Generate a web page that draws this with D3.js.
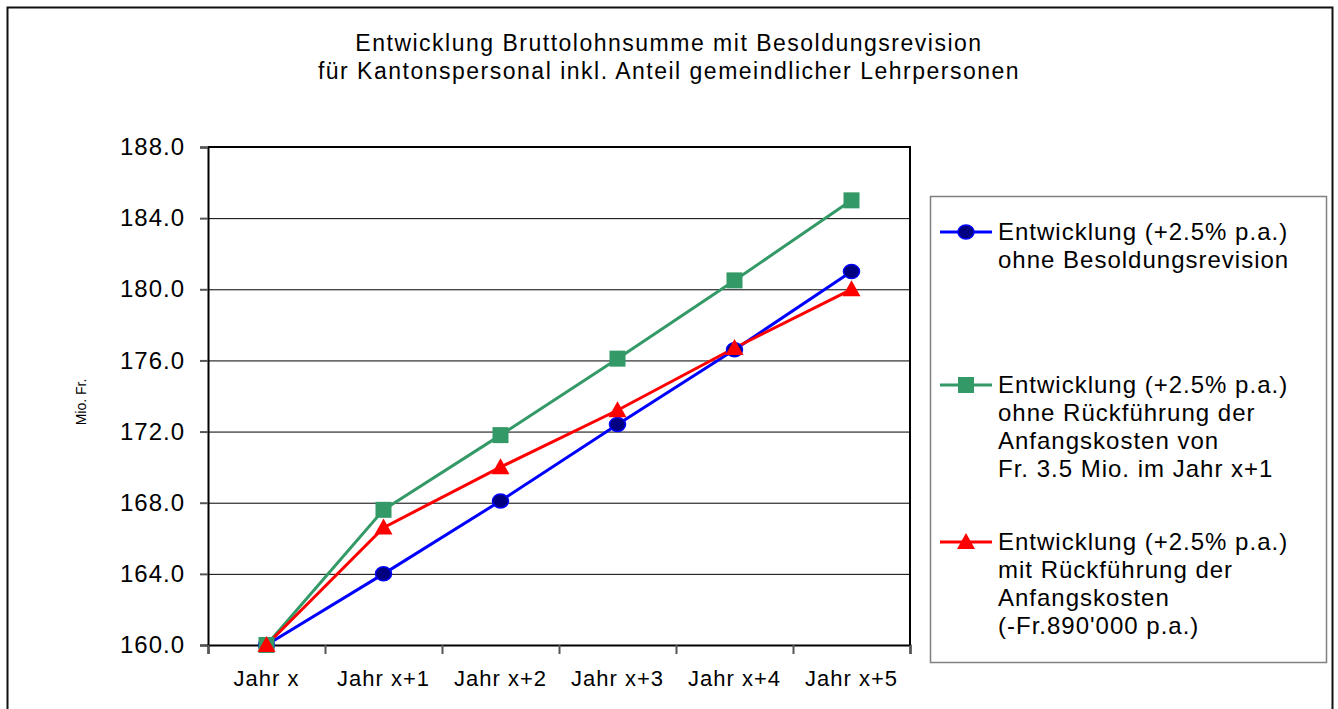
<!DOCTYPE html>
<html>
<head>
<meta charset="utf-8">
<script src="https://cdn.jsdelivr.net/npm/d3@7"></script>
<style>
  body { margin: 0; background: #fff; }
  text { font-family: "Liberation Sans", Arial, sans-serif; fill: #000; }
</style>
</head>
<body>
<svg id="chart" width="1338" height="709"></svg>
<script>
/* chart data */
const categories = ['Jahr x', 'Jahr x+1', 'Jahr x+2', 'Jahr x+3', 'Jahr x+4', 'Jahr x+5'];
const blueValues = [160.0, 164.0, 168.1, 172.4, 176.6, 181.0];
const greenValues = [160.0, 167.6, 171.8, 176.1, 180.5, 185.0];
const redValues = [160.0, 166.6, 170.0, 173.2, 176.7, 180.0];
const yTicks = [160, 164, 168, 172, 176, 180, 184, 188];
const titleLines = ['Entwicklung Bruttolohnsumme mit Besoldungsrevision',
                    'für Kantonspersonal inkl. Anteil gemeindlicher Lehrpersonen'];
const yLabel = 'Mio. Fr.';
const blueLabel = ['Entwicklung (+2.5% p.a.)', 'ohne Besoldungsrevision'];
const greenLabel = ['Entwicklung (+2.5% p.a.)', 'ohne Rückführung der', 'Anfangskosten von', 'Fr. 3.5 Mio. im Jahr x+1'];
const redLabel = ['Entwicklung (+2.5% p.a.)', 'mit Rückführung der', 'Anfangskosten', '(-Fr.890\'000 p.a.)'];

const series = [
  {values: blueValues, label: blueLabel, line: '#0000ff', fill: '#000080', marker: 'circle'},
  {values: greenValues, label: greenLabel, line: '#339966', fill: '#339966', marker: 'square'},
  {values: redValues, label: redLabel, line: '#ff0000', fill: '#ff0000', marker: 'triangle'}
];

/* layout */
const width = 1338, height = 709;
const plot = {left: 208, right: 910, top: 147, bottom: 645};

const svg = d3.select('#chart');

svg.append('rect').attr('width', width).attr('height', height).attr('fill', '#fff');

/* outer frame */
svg.append('rect')
  .attr('x', 7.5).attr('y', 7.5)
  .attr('width', 1325).attr('height', 740)
  .attr('fill', 'none').attr('stroke', '#111').attr('stroke-width', 2);

/* title */
svg.append('g').selectAll('text')
  .data(titleLines)
  .join('text')
  .attr('x', 669)
  .attr('y', (d, i) => 51 + i * 28)
  .attr('text-anchor', 'middle')
  .style('font-size', '23px')
  .style('letter-spacing', '1.5px')
  .text(d => d);

/* scales */
const xBand = d3.scaleBand().domain(categories).range([plot.left, plot.right]);
const x = d => xBand(d) + xBand.bandwidth() / 2;
const y = d3.scaleLinear().domain([160, 188]).range([plot.bottom, plot.top]);

/* gridlines */
svg.append('g')
  .attr('transform', `translate(${plot.left},0)`)
  .call(d3.axisLeft(y).tickValues(yTicks).tickSize(-(plot.right - plot.left)).tickFormat(''))
  .call(g => g.select('.domain').remove())
  .call(g => g.selectAll('line').attr('stroke', '#000').attr('stroke-width', 1));

/* y axis */
svg.append('g')
  .attr('transform', `translate(${plot.left},0)`)
  .call(d3.axisLeft(y).tickValues(yTicks).tickSize(8).tickPadding(15).tickFormat(d3.format('.1f')))
  .call(g => g.select('.domain').attr('stroke', '#000').attr('stroke-width', 2))
  .call(g => g.selectAll('line').attr('stroke', '#555').attr('stroke-width', 2))
  .call(g => g.selectAll('text')
    .style('font-size', '24px').style('letter-spacing', '1px')
    .style('font-family', '"Liberation Sans", Arial, sans-serif'));

/* x axis: ticks sit between the categories */
const xEdges = d3.scaleLinear().domain([0, categories.length]).range([plot.left, plot.right]);
svg.append('g')
  .attr('transform', `translate(0,${plot.bottom})`)
  .call(d3.axisBottom(xEdges).ticks(categories.length).tickSize(9).tickFormat(''))
  .call(g => g.select('.domain').attr('stroke', '#000').attr('stroke-width', 2))
  .call(g => g.selectAll('line').attr('stroke', '#555').attr('stroke-width', 2));

svg.append('g').selectAll('text')
  .data(categories)
  .join('text')
  .attr('x', d => x(d))
  .attr('y', plot.bottom + 41)
  .attr('text-anchor', 'middle')
  .style('font-size', '22px')
  .style('letter-spacing', '1px')
  .text(d => d);

/* top and right frame of plot area */
svg.append('line')
  .attr('x1', plot.left).attr('x2', plot.right + 1)
  .attr('y1', plot.top).attr('y2', plot.top)
  .attr('stroke', '#000').attr('stroke-width', 2);
svg.append('line')
  .attr('x1', plot.right).attr('x2', plot.right)
  .attr('y1', plot.top).attr('y2', plot.bottom)
  .attr('stroke', '#000').attr('stroke-width', 2);

/* y axis title */
svg.append('text')
  .attr('transform', `translate(86,${(plot.top + plot.bottom) / 2 + 6}) rotate(-90)`)
  .attr('text-anchor', 'middle')
  .style('font-size', '14px')
  .text(yLabel);

/* marker drawing */
function drawMarker(sel, s) {
  if (s.marker === 'circle') {
    sel.append('ellipse').attr('rx', 8).attr('ry', 7)
      .attr('fill', s.fill).attr('stroke', s.line).attr('stroke-width', 1.5);
  } else if (s.marker === 'square') {
    sel.append('rect').attr('x', -8).attr('y', -8).attr('width', 16).attr('height', 16)
      .attr('fill', s.fill);
  } else {
    sel.append('path').attr('d', 'M0,-9L9,7L-9,7Z').attr('fill', s.fill);
  }
}

/* lines and markers */
const line = d3.line()
  .x((d, i) => x(categories[i]))
  .y(d => y(d));

series.forEach(s => {
  svg.append('path')
    .attr('d', line(s.values))
    .attr('fill', 'none')
    .attr('stroke', s.line)
    .attr('stroke-width', 3);
});

series.forEach(s => {
  s.values.forEach((v, i) => {
    const g = svg.append('g').attr('transform', `translate(${x(categories[i])},${y(v)})`);
    drawMarker(g, s);
  });
});

/* legend */
const legend = svg.append('g');
legend.append('rect')
  .attr('x', 930.5).attr('y', 196.5)
  .attr('width', 396).attr('height', 466)
  .attr('fill', '#fff').attr('stroke', '#808080').attr('stroke-width', 1.5);

const legendTop = [232, 385, 542];
series.forEach((s, k) => {
  const cy = legendTop[k];
  legend.append('line')
    .attr('x1', 940).attr('x2', 992)
    .attr('y1', cy).attr('y2', cy)
    .attr('stroke', s.line).attr('stroke-width', 3);
  drawMarker(legend.append('g').attr('transform', `translate(966,${cy})`), s);
  legend.append('g').selectAll('text')
    .data(s.label)
    .join('text')
    .attr('x', 998)
    .attr('y', (d, i) => cy + 8 + i * 28)
    .style('font-size', '24px')
    .style('letter-spacing', '1px')
    .text(d => d);
});
</script>
</body>
</html>
